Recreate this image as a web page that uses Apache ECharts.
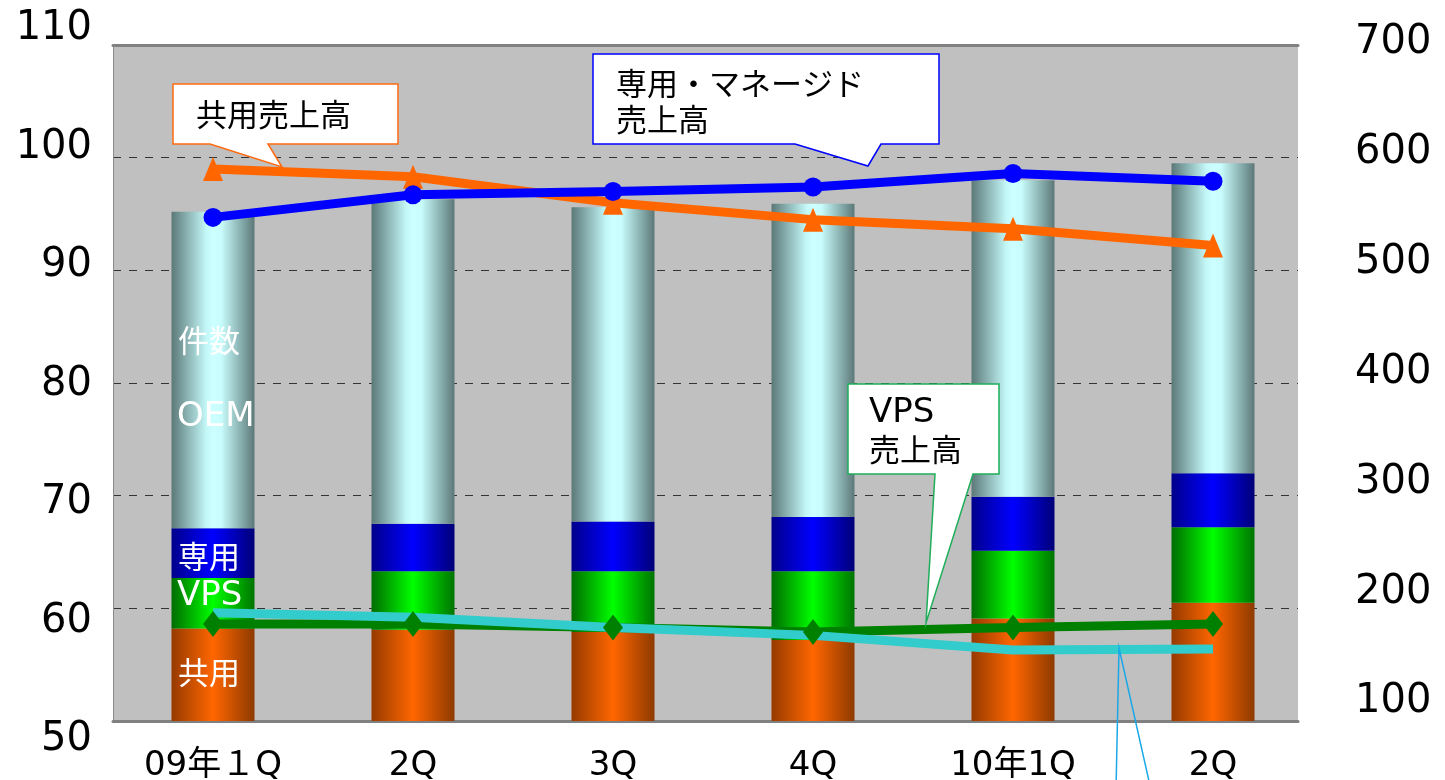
<!DOCTYPE html>
<html>
<head>
<meta charset="utf-8">
<style>
  html, body { margin: 0; padding: 0; background: #fff; }
  #chart { width: 1445px; height: 780px; }
</style>
<script src="https://cdn.jsdelivr.net/npm/echarts@6/dist/echarts.min.js"></script>
</head>
<body>
<div id="chart"></div>
<script>
// categories
const quarters = ['09年１Q', '2Q', '3Q', '4Q', '10年1Q', '2Q'];

// 件数 (right axis), stacked bottom to top
const countShared = [182, 181, 179, 172, 191, 205];
const countVps = [45, 52, 54, 61, 60, 67];
const countDedicated = [44, 42, 44, 48, 48, 48];
const countOem = [281, 288, 279, 278, 281, 275];

// 売上高 (left axis)
const salesShared = [99.0, 98.3, 96.0, 94.5, 93.7, 92.2];
const salesDedicated = [94.7, 96.7, 97.0, 97.4, 98.6, 97.9];
const salesVps = [58.6, 58.6, 58.3, 57.9, 58.3, 58.6];
const salesOem = [59.6, 59.2, 58.3, 57.6, 56.3, 56.4];

// axis ranges
const leftMin = 50, leftMax = 110, leftStep = 10;
const rightMin = 100, rightMax = 700, rightStep = 100;

const numFont = "'DejaVu Sans', 'Noto Sans CJK JP', sans-serif";
const jpFont = "'Noto Sans CJK JP', sans-serif";

function cylinder(stops) {
  return new echarts.graphic.LinearGradient(0, 0, 1, 0,
    stops.map(s => ({ offset: s[0], color: s[1] })));
}

const chart = echarts.init(document.getElementById('chart'));

function barSeries(name, data, color) {
  return {
    name: name,
    type: 'bar',
    stack: 'count',
    xAxisIndex: 2,
    yAxisIndex: 1,
    barWidth: 83,
    clip: true,
    itemStyle: { color: color },
    data: data
  };
}

function lineSeries(name, data, color, symbol, symbolSize) {
  return {
    name: name,
    type: 'line',
    xAxisIndex: 2,
    yAxisIndex: 2,
    symbol: symbol,
    symbolSize: symbolSize,
    lineStyle: { color: color, width: 9 },
    itemStyle: { color: color },
    data: data
  };
}

function callout(points, stroke) {
  return {
    type: 'polygon',
    z: 100,
    shape: { points: points },
    style: { fill: '#fff', stroke: stroke, lineWidth: 1.5 }
  };
}

function label(text, x, y, color, font) {
  return {
    type: 'text',
    z: 101,
    style: { text: text, x: x, y: y, fill: color, font: font, verticalAlign: 'middle' }
  };
}

function hiddenX(gridIndex) {
  return { gridIndex: gridIndex, type: 'value', min: 0, max: 1, show: false };
}

const tickLabel = { color: '#000', fontSize: 40, fontFamily: numFont };

chart.setOption({
  animation: false,
  grid: [
    // plot area
    { left: 113, top: 45, width: 1185, height: 676, show: true, backgroundColor: '#c0c0c0', borderWidth: 0, outerBoundsMode: 'none' },
    // data
    { left: 113, top: 45, width: 1200, height: 676, outerBoundsMode: 'none' },
    // left tick labels (placed as in the original, slightly off the gridlines)
    { left: 113, top: 29, width: 1185, height: 711, outerBoundsMode: 'none' },
    // right tick labels
    { left: 113, top: 43, width: 1185, height: 659, outerBoundsMode: 'none' }
  ],
  xAxis: [
    {
      gridIndex: 0, type: 'value', min: 0, max: 1, position: 'bottom',
      axisLine: { show: true, onZero: false, lineStyle: { color: '#808080', width: 3 } },
      axisTick: { show: false }, axisLabel: { show: false }, splitLine: { show: false }
    },
    {
      gridIndex: 0, type: 'value', min: 0, max: 1, position: 'top',
      axisLine: { show: true, onZero: false, lineStyle: { color: '#808080', width: 3 } },
      axisTick: { show: false }, axisLabel: { show: false }, splitLine: { show: false }
    },
    {
      gridIndex: 1, type: 'category', data: quarters,
      axisLine: { show: false }, axisTick: { show: false },
      axisLabel: { color: '#000', fontSize: 34, fontFamily: numFont, margin: 28 }
    },
    hiddenX(2),
    hiddenX(3)
  ],
  yAxis: [
    {
      gridIndex: 0, type: 'value', position: 'left',
      min: leftMin, max: leftMax, interval: leftStep,
      axisLine: { show: true, onZero: false, lineStyle: { color: '#8c8c8c', width: 1 } },
      axisTick: { show: false }, axisLabel: { show: false },
      splitLine: { show: true, showMinLine: false, showMaxLine: false, lineStyle: { color: '#333', type: [8, 8], width: 1 } }
    },
    { gridIndex: 1, type: 'value', min: rightMin, max: rightMax, show: false },
    { gridIndex: 1, type: 'value', min: leftMin, max: leftMax, show: false },
    {
      gridIndex: 2, type: 'value', position: 'left',
      min: leftMin, max: leftMax, interval: leftStep,
      axisLine: { show: false }, axisTick: { show: false }, splitLine: { show: false },
      axisLabel: Object.assign({ margin: 21 }, tickLabel)
    },
    {
      gridIndex: 3, type: 'value', position: 'right',
      min: rightMin, max: rightMax, interval: rightStep,
      axisLine: { show: false }, axisTick: { show: false }, splitLine: { show: false },
      axisLabel: Object.assign({ margin: 57 }, tickLabel)
    }
  ],
  series: [
    barSeries('共用', countShared, cylinder([[0, '#963a00'], [0.5, '#ff6600'], [1, '#8e3a00']])),
    barSeries('VPS', countVps, cylinder([[0, '#006c00'], [0.5, '#00ff00'], [1, '#007400']])),
    barSeries('専用', countDedicated, cylinder([[0, '#00008c'], [0.5, '#0000ff'], [1, '#000078']])),
    barSeries('OEM', countOem, cylinder([[0, '#5c7878'], [0.42, '#c4f8f8'], [0.5, '#ccffff'], [0.6, '#c8fcfc'], [1, '#5c7878']])),
    lineSeries('VPS売上高', salesVps, '#008000', 'diamond', [20, 26]),
    lineSeries('OEM売上高', salesOem, '#33cccc', 'none', 0),
    lineSeries('共用売上高', salesShared, '#ff6600', 'triangle', [20, 24]),
    lineSeries('専用・マネージド売上高', salesDedicated, '#0000ff', 'circle', 19)
  ],
  graphic: [
    callout([[173, 84], [398, 84], [398, 144], [268, 144], [282, 167], [210, 144], [173, 144]], '#ff6a10'),
    callout([[593, 54], [939, 54], [939, 144], [881, 144], [868, 166], [795, 144], [593, 144]], '#0000ff'),
    callout([[848, 384], [999, 384], [999, 474], [973, 474], [926, 623], [935, 474], [848, 474]], '#1fae5a'),
    {
      type: 'polyline', z: 100,
      shape: { points: [[1116, 790], [1119, 648], [1151, 790]] },
      style: { fill: null, stroke: '#1aa8e8', lineWidth: 1.5 }
    },
    label('共用売上高', 196, 114, '#000', '31px ' + jpFont),
    label('専用・マネージド', 616, 83, '#000', '31px ' + jpFont),
    label('売上高', 616, 119, '#000', '31px ' + jpFont),
    label('VPS', 869, 413, '#000', '34px ' + numFont),
    label('売上高', 869, 449, '#000', '31px ' + jpFont),
    label('件数', 178, 340, '#fff', '31px ' + jpFont),
    label('OEM', 177, 417, '#fff', '34px ' + numFont),
    label('専用', 178, 556, '#fff', '31px ' + jpFont),
    label('VPS', 177, 596, '#fff', '34px ' + numFont),
    label('共用', 178, 672, '#fff', '31px ' + jpFont)
  ]
});
</script>
</body>
</html>
